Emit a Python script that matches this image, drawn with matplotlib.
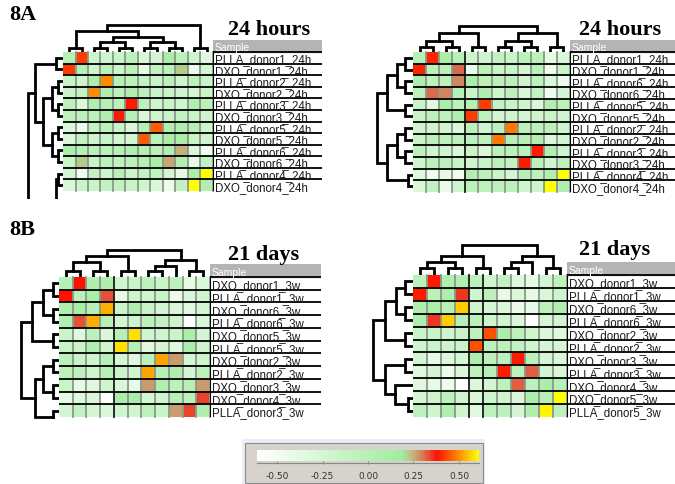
import numpy as np
import matplotlib
matplotlib.use("Agg")
import matplotlib.pyplot as plt
from matplotlib.colors import LinearSegmentedColormap, Normalize
from matplotlib.cm import ScalarMappable
from matplotlib.patches import Rectangle
from matplotlib.lines import Line2D

W, H = 675, 485

# ---------------- data ----------------
labels_a1 = ["PLLA_donor1_24h", "DXO_donor1_24h", "PLLA_donor2_24h", "DXO_donor2_24h",
             "PLLA_donor3_24h", "DXO_donor3_24h", "PLLA_donor5_24h", "DXO_donor5_24h",
             "PLLA_donor6_24h", "DXO_donor6_24h", "PLLA_donor4_24h", "DXO_donor4_24h"]
vals_a1 = [
    [0.0, 0.42, -0.2, -0.2, -0.15, -0.05, -0.3, -0.25, 0.1, -0.05, -0.2, -0.35],
    [0.42, 0.0, -0.2, -0.05, -0.2, -0.05, -0.4, -0.1, -0.05, 0.22, -0.45, -0.25],
    [-0.15, -0.2, 0.08, 0.5, 0.0, -0.05, -0.1, -0.15, -0.05, -0.2, -0.05, -0.15],
    [-0.15, -0.1, 0.5, 0.05, -0.05, 0.05, -0.05, -0.15, -0.15, -0.2, -0.25, -0.15],
    [-0.05, -0.3, 0.05, 0.0, -0.05, 0.39, -0.05, -0.2, -0.15, -0.2, 0.05, -0.05],
    [-0.05, -0.05, -0.05, 0.05, 0.39, 0.0, -0.3, -0.2, -0.15, -0.1, -0.15, -0.2],
    [-0.3, -0.45, -0.1, -0.05, -0.15, -0.3, 0.0, 0.45, 0.05, 0.05, 0.0, -0.2],
    [-0.3, -0.1, -0.2, -0.15, -0.25, -0.25, 0.45, -0.05, 0.1, 0.1, -0.15, -0.2],
    [0.1, 0.0, -0.05, -0.05, 0.0, 0.05, 0.0, -0.05, 0.05, 0.25, -0.3, -0.5],
    [-0.15, 0.22, -0.15, -0.05, -0.1, -0.05, 0.0, 0.1, 0.26, 0.05, -0.4, -0.1],
    [-0.25, -0.5, -0.1, -0.2, 0.0, -0.15, -0.1, -0.1, -0.25, -0.4, 0.1, 0.62],
    [-0.3, -0.15, -0.15, -0.1, -0.1, -0.15, -0.2, -0.3, -0.45, -0.1, 0.62, 0.05],
]
# trees: leaf index or (left, right, height in px); leaves past the last row are cut off
coltree_a1 = (((0, 1, 4.4), (((2, 3, 4.4), (4, 5, 4.4), 10), ((6, 7, 4.4), (8, 9, 4.4), 10), 15), 21),
              (10, 11, 4.4), 26.7)
rowtree_a1 = [(((0, 1, 7), (((2, 3, 5), (4, 5, 5), 11), ((6, 7, 5), (8, 9, 5), 11), 20), 28), 20, 35),
              ((10, 11, 5), 18, 7)]

labels_a2 = ["PLLA_donor1_24h", "DXO_donor1_24h", "PLLA_donor6_24h", "DXO_donor6_24h",
             "PLLA_donor5_24h", "DXO_donor5_24h", "PLLA_donor2_24h", "DXO_donor2_24h",
             "PLLA_donor3_24h", "DXO_donor3_24h", "PLLA_donor4_24h", "DXO_donor4_24h"]
vals_a2 = [
    [0.0, 0.40, 0.1, 0.0, -0.2, -0.2, -0.1, -0.15, -0.05, -0.05, -0.4, -0.3],
    [0.40, -0.05, -0.05, 0.31, -0.45, -0.05, -0.15, -0.15, -0.25, -0.05, -0.5, -0.15],
    [0.08, -0.05, -0.05, 0.29, 0.1, -0.05, -0.05, -0.05, -0.2, -0.05, -0.3, -0.45],
    [-0.05, 0.31, 0.29, 0.0, -0.15, 0.05, -0.2, -0.05, -0.3, -0.1, -0.5, -0.25],
    [-0.15, -0.35, 0.1, -0.05, 0.0, 0.42, -0.1, -0.15, -0.2, -0.3, 0.05, -0.05],
    [-0.15, -0.05, -0.05, 0.05, 0.42, -0.05, -0.25, -0.2, -0.25, -0.2, -0.15, -0.2],
    [-0.2, -0.2, -0.2, -0.3, -0.05, -0.2, -0.05, 0.48, -0.05, -0.05, -0.05, -0.2],
    [-0.15, -0.05, -0.05, -0.05, -0.05, -0.05, 0.48, 0.0, 0.0, 0.05, -0.3, -0.25],
    [-0.05, -0.2, -0.2, -0.3, -0.15, -0.3, -0.05, -0.05, -0.05, 0.39, 0.05, -0.2],
    [-0.2, -0.05, -0.05, -0.15, -0.2, -0.15, -0.05, -0.1, 0.39, -0.05, -0.2, -0.05],
    [-0.35, -0.5, -0.4, -0.5, 0.05, -0.05, -0.15, -0.25, 0.0, -0.05, 0.05, 0.62],
    [-0.3, -0.1, -0.45, -0.2, -0.05, -0.05, -0.05, -0.05, -0.2, -0.2, 0.62, 0.05],
]
coltree_a2 = ((((0, 1, 4.7), (2, 3, 4.7), 11.3), (4, 5, 4.7), 19),
              (((6, 7, 4.7), (8, 9, 4.7), 11.3), (10, 11, 4.7), 19), 25.7)
rowtree_a2 = [((((0, 1, 8), (2, 3, 8), 16), (4, 5, 8), 26),
               (((6, 7, 8), (8, 9, 8), 16), (10, 11, 5), 26), 36)]

labels_b1 = ["DXO_donor1_3w", "PLLA_donor1_3w", "DXO_donor6_3w", "PLLA_donor6_3w",
             "DXO_donor5_3w", "PLLA_donor5_3w", "DXO_donor2_3w", "PLLA_donor2_3w",
             "DXO_donor3_3w", "DXO_donor4_3w", "PLLA_donor3_3w"]
vals_b1 = [
    [0.0, 0.38, 0.05, 0.05, -0.2, -0.15, -0.05, -0.15, -0.05, -0.4, -0.3],
    [0.38, -0.05, 0.1, 0.33, -0.4, -0.2, -0.2, -0.15, -0.45, -0.3, -0.2],
    [0.05, 0.12, 0.0, 0.53, -0.15, 0.05, -0.15, -0.25, -0.3, -0.35, -0.25],
    [0.05, 0.33, 0.53, 0.0, -0.25, -0.2, -0.05, -0.1, -0.2, -0.62, -0.3],
    [-0.15, -0.35, -0.05, -0.3, 0.0, 0.58, -0.2, -0.2, -0.15, 0.1, -0.25],
    [-0.15, -0.15, 0.05, -0.2, 0.58, 0.0, -0.35, -0.25, -0.35, 0.08, -0.2],
    [-0.05, -0.15, -0.2, 0.0, -0.25, -0.35, -0.05, 0.52, 0.27, -0.25, -0.2],
    [-0.05, -0.05, -0.2, 0.0, -0.15, -0.2, 0.52, 0.0, 0.05, -0.25, -0.05],
    [-0.15, -0.4, -0.35, -0.2, -0.3, -0.4, 0.27, 0.05, -0.05, 0.0, 0.27],
    [-0.4, -0.35, -0.3, -0.62, 0.1, 0.1, -0.25, -0.2, 0.0, -0.05, 0.34],
    [-0.25, -0.1, -0.25, -0.3, -0.2, -0.2, -0.05, -0.15, 0.27, 0.34, 0.05],
]
coltree_b1 = ((((0, 1, 6.3), (2, 3, 6.3), 14.7), (4, 5, 6.3), 20.7),
              (((6, 7, 6.3), 8, 11.3), (9, 10, 6.3), 17.3), 27.3)
rowtree_b1 = [((((0, 1, 6), (2, 3, 6), 16), (4, 5, 6), 27),
               (((6, 7, 6), (8, 9, 6), 16), (10, 11, 6), 24), 38)]

labels_b2 = ["DXO_donor1_3w", "PLLA_donor1_3w", "DXO_donor6_3w", "PLLA_donor6_3w",
             "DXO_donor2_3w", "PLLA_donor2_3w", "DXO_donor3_3w", "PLLA_donor3_3w",
             "DXO_donor4_3w", "DXO_donor5_3w", "PLLA_donor5_3w"]
vals_b2 = [
    [-0.05, 0.39, 0.05, 0.05, -0.05, -0.2, -0.1, -0.35, -0.4, -0.25, -0.05],
    [0.39, -0.05, 0.08, 0.35, -0.2, -0.05, -0.4, -0.3, -0.4, -0.3, -0.2],
    [0.05, 0.1, 0.0, 0.56, -0.2, -0.25, -0.3, -0.45, -0.4, -0.05, 0.05],
    [0.08, 0.35, 0.56, 0.0, -0.05, -0.2, -0.2, -0.3, -0.6, -0.25, -0.2],
    [-0.15, -0.15, -0.2, -0.15, -0.05, 0.44, 0.1, -0.05, -0.2, -0.3, -0.35],
    [-0.2, -0.15, -0.2, -0.15, 0.44, -0.05, -0.05, -0.1, -0.2, -0.25, -0.25],
    [-0.25, -0.4, -0.3, -0.25, 0.08, -0.05, -0.05, 0.39, -0.05, -0.25, -0.3],
    [-0.35, -0.25, -0.45, -0.3, -0.05, 0.0, 0.39, -0.05, 0.32, -0.25, -0.3],
    [-0.35, -0.4, -0.45, -0.6, -0.3, -0.25, -0.05, 0.32, -0.05, 0.1, 0.0],
    [-0.25, -0.2, -0.05, -0.2, -0.3, -0.2, -0.2, -0.3, 0.08, 0.0, 0.62],
    [-0.05, -0.2, 0.05, -0.2, -0.35, -0.05, -0.05, -0.25, 0.05, 0.6, -0.05],
]
coltree_b2 = ((((0, 1, 6.7), (2, 3, 6.7), 12.7), (4, 5, 6.7), 18.7),
              (((6, 7, 6.7), 8, 12.7), (9, 10, 6.7), 18.7), 30)
rowtree_b2 = [((((0, 1, 8), (2, 3, 8), 17), (4, 5, 8), 28),
               ((6, 7, 8), (8, (9, 10, 5), 18), 28), 40)]

cbar_ticks = [-0.50, -0.25, 0.00, 0.25, 0.50]

# ---------------- colours ----------------
vmin, vmax = -0.61, 0.61
cmap_nodes = [(-0.61, "#ffffff"), (0.19, "#a0eca0"), (0.25, "#c4b27c"),
              (0.31, "#d87050"), (0.38, "#ff1000"), (0.50, "#ff8c00"), (0.61, "#ffff00")]
cmap = LinearSegmentedColormap.from_list(
    "hm", [((v - vmin) / (vmax - vmin), c) for v, c in cmap_nodes])
norm = Normalize(vmin, vmax)

fig = plt.figure(figsize=(W / 100, H / 100), dpi=100)
fig.patch.set_facecolor("white")


def px_axes(x0, y0, x1, y1):
    ax = fig.add_axes([x0 / W, 1 - y1 / H, (x1 - x0) / W, (y1 - y0) / H])
    ax.set_axis_off()
    return ax


def tree_segments(node, segs):
    if isinstance(node, int):
        return node + 0.5, 0.0
    a, b, h = node
    pa, ha = tree_segments(a, segs)
    pb, hb = tree_segments(b, segs)
    segs.append(([pa, pa, pb, pb], [ha, h, h, hb]))
    return (pa + pb) / 2, h


def draw_panel(vals, labels, coltree, rowtrees, box, lab_right, dend_h, dend_w,
               row_bottom, dark_cols=()):
    x0, y0, x1, y1 = box
    nr, nc = len(vals), len(vals[0])
    row_h = (y1 - y0) / nr

    ax = px_axes(x0, y0, x1, y1)
    ax.imshow(np.array(vals), cmap=cmap, norm=norm, aspect="auto",
              extent=(0, nc, nr, 0), interpolation="nearest")
    ax.set_xlim(0, nc)
    ax.set_ylim(nr, 0)
    for j in range(1, nc + 1):
        ax.axvline(j, color="#1a1a1a" if j in dark_cols else "#8a9a8a",
                   lw=1.3, clip_on=False)
    for i in range(1, nr):
        ax.axhline(i, color="black", lw=1.3)

    # label column with header
    axl = px_axes(x1, y0 - row_h, lab_right, y1)
    axl.set_xlim(0, lab_right - x1)
    axl.set_ylim(nr, -1)
    axl.axhspan(-1, 0, color="#b4b4b4")
    axl.text(2, -0.15, "Sample", color="white", fontsize=7.5, va="baseline",
             family="Liberation Sans")
    for i in range(0, nr):
        axl.axhline(i, color="black", lw=1.3)
    axl.axvline(0, ymin=0, ymax=nr / (nr + 1), color="black", lw=1.5)
    for i, lab in enumerate(labels):
        axl.text(2, i + 1 - 0.12, lab, fontsize=8.3, va="baseline",
                 color="#1a1a1a", family="Liberation Sans")

    # column dendrogram
    axc = px_axes(x0, y0 - dend_h, x1, y0)
    axc.set_xlim(0, nc)
    axc.set_ylim(0, dend_h)
    segs = []
    tree_segments(coltree, segs)
    for xs, ys in segs:
        axc.plot(xs, ys, color="black", lw=2.0, solid_joinstyle="miter")

    # row dendrogram
    axr = px_axes(x0 - dend_w, y0, x0, row_bottom)
    axr.set_xlim(dend_w, 0)
    axr.set_ylim((row_bottom - y0) / row_h, 0)
    segs = []
    for t in rowtrees:
        tree_segments(t, segs)
    for ys, xs in segs:
        axr.plot(xs, ys, color="black", lw=2.0, solid_joinstyle="miter")


draw_panel(vals_a1, labels_a1, coltree_a1, rowtree_a1, (63, 53, 213, 192), 322, 33, 40, 200)
draw_panel(vals_a2, labels_a2, coltree_a2, rowtree_a2, (413, 53, 570, 193), 675, 33, 43, 200,
           dark_cols=(4,))
draw_panel(vals_b1, labels_b1, coltree_b1, rowtree_b1, (59, 278, 210, 418), 321, 33, 42, 420,
           dark_cols=(4,))
draw_panel(vals_b2, labels_b2, coltree_b2, rowtree_b2, (413, 276, 567, 418), 675, 35, 43, 420,
           dark_cols=(4, 5))

# titles
serif = dict(family="Liberation Serif", fontweight="bold", fontsize=16, va="baseline")
fig.text(9 / W, 1 - 20 / H, "8A", **serif)
fig.text(9 / W, 1 - 235 / H, "8B", **serif)
fig.text(228 / W, 1 - 35 / H, "24 hours", **serif)
fig.text(579 / W, 1 - 35 / H, "24 hours", **serif)
fig.text(228 / W, 1 - 260 / H, "21 days", **serif)
fig.text(579 / W, 1 - 255 / H, "21 days", **serif)

# colour scale box (behind the colour bar axes)
fig.patches.append(Rectangle((242 / W, 1 - 485 / H), 243 / W, 45 / H, transform=fig.transFigure,
                             facecolor="#ececf6", edgecolor="none", zorder=-2))
fig.patches.append(Rectangle((245 / W, 1 - 484 / H), 238 / W, 40 / H, transform=fig.transFigure,
                             facecolor="#d6d3cc", edgecolor="#8c8c8c", lw=0.8, zorder=-1))
cax = fig.add_axes([257 / W, 1 - 462 / H, 222 / W, 11 / H])
cb = fig.colorbar(ScalarMappable(norm=norm, cmap=cmap), cax=cax, orientation="horizontal")
cb.outline.set_visible(False)
cb.set_ticks(cbar_ticks)
cb.set_ticklabels(["%.2f" % t for t in cbar_ticks])
cax.tick_params(axis="x", length=2.5, width=0.6, color="#777777", pad=5,
                labelsize=6.5, labelcolor="#333333")
fig.add_artist(Line2D([257 / W, 479 / W], [1 - 463.5 / H, 1 - 463.5 / H],
                      transform=fig.transFigure, color="#888888", lw=0.8))

fig.savefig("out.png", dpi=100, facecolor="white")
